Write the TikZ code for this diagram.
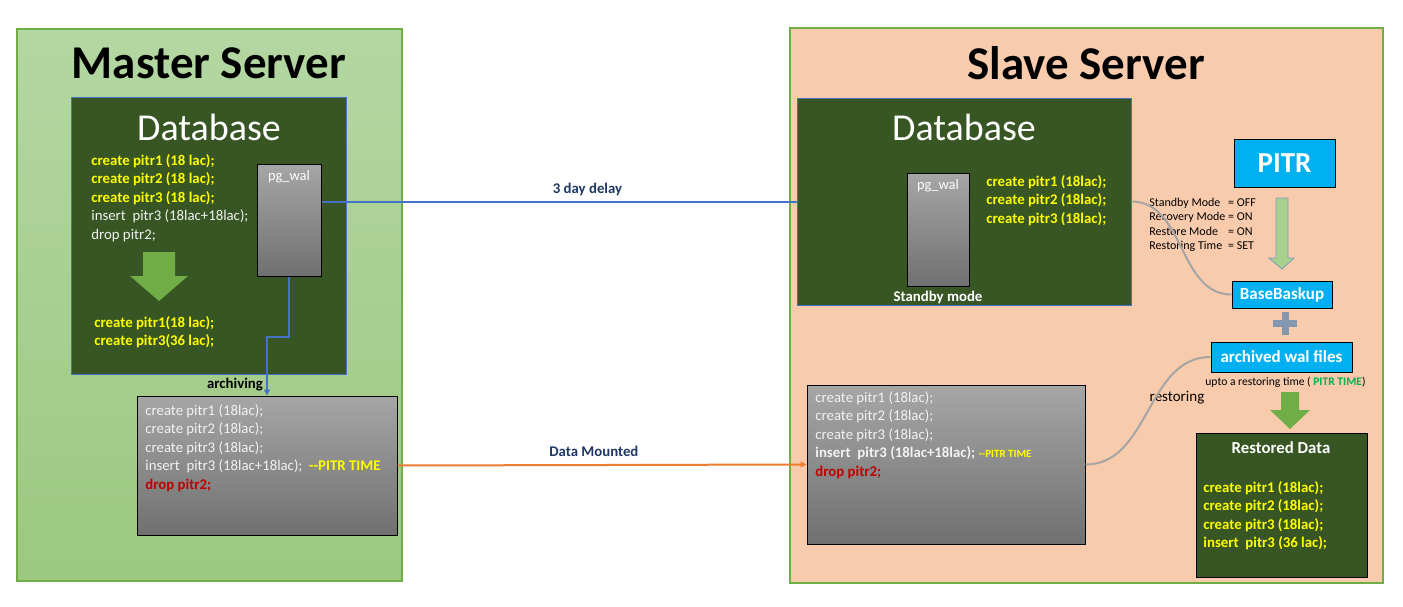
\documentclass[tikz,border=0pt]{standalone}
\usepackage{fontspec}
\setmainfont{Carlito}
\usetikzlibrary{arrows.meta}

\definecolor{masterbg1}{HTML}{B4D7A3}
\definecolor{masterbg2}{HTML}{9CC87F}
\definecolor{slavebg}{HTML}{F8CBAD}
\definecolor{panelline}{HTML}{70AD47}
\definecolor{dbgreen}{HTML}{375623}
\definecolor{dbline}{HTML}{4472C4}
\definecolor{waltop}{HTML}{A6A6A6}
\definecolor{walbot}{HTML}{707070}
\definecolor{sqlwhite}{HTML}{F2F2F2}
\definecolor{sqlyellow}{HTML}{FFFF00}
\definecolor{sqlred}{HTML}{C00000}
\definecolor{labelnavy}{HTML}{1F3864}
\definecolor{mountorange}{HTML}{ED7D31}
\definecolor{pitrblue}{HTML}{00B0F0}
\definecolor{arrowgreen}{HTML}{70AD47}
\definecolor{lightgreen}{HTML}{A9D18E}
\definecolor{lightedge}{HTML}{7F9DB9}
\definecolor{restgray}{HTML}{A5A5A5}
\definecolor{plusgray}{HTML}{8497B0}
\definecolor{timegreen}{HTML}{00B050}

\newcommand{\sqlfont}{\fontsize{7.4}{9.25}\selectfont}
\newcommand{\yl}[1]{\textcolor{sqlyellow}{\bfseries #1}}
\newcommand{\rd}[1]{\textcolor{sqlred}{\bfseries #1}}

\tikzset{
  panel/.style={draw=panelline, line width=0.6pt},
  servertitle/.style={font=\fontsize{23.5}{28}\selectfont\bfseries},
  dbtitle/.style={text=white, font=\fontsize{19}{23}\selectfont},
  dbbox/.style={draw=dbline, fill=dbgreen, line width=0.5pt, inner sep=0pt},
  walbox/.style={draw=black, top color=waltop, bottom color=walbot, line width=0.5pt, inner sep=0pt},
  pitrbox/.style={draw=black, fill=pitrblue, text=white, line width=0.5pt, inner sep=0pt, font=\fontsize{8.5}{10}\selectfont\bfseries},
  sql/.style={anchor=north west, align=left, inner sep=0pt, text=sqlwhite, font=\sqlfont},
  waltext/.style={inner sep=0pt, text=white, font=\fontsize{7.2}{9}\selectfont},
  linklabel/.style={text=labelnavy, font=\fontsize{7.4}{9}\selectfont\bfseries},
  walline/.style={draw=dbline, line width=1pt},
  restline/.style={draw=restgray, line width=1pt},
}

\begin{document}
\begin{tikzpicture}[x=0.5pt,y=-0.5pt]
\fill[white] (0,0) rectangle (1403,606);
\useasboundingbox (0,0) rectangle (1403,606);

% master server
\draw[panel, top color=masterbg1, bottom color=masterbg2] (17,29) rectangle (402,581);
\node at (209,63) [servertitle] (mtitle) {Master Server};
\node at (208.5,235.5) [dbbox, minimum width=137.5pt, minimum height=138.5pt] (mdb) {};
\node at (209,127) [dbtitle] (mdbtitle) {Database};
\node at (91,154) [sql] (msql) {\yl{create pitr1 (18 lac);}\\ \yl{create pitr2 (18 lac);}\\ \yl{create pitr3 (18 lac);}\\ insert\ \ pitr3 (18lac+18lac);\\ drop pitr2;};
\node at (289,220) [walbox, minimum width=32pt, minimum height=56pt] (mwal) {};
\node at (289,177) [waltext] (mwaltext) {pg\_wal};
\fill[arrowgreen] (143,252) -- (175,252) -- (175,276) -- (188,276) -- (159,301) -- (130,276) -- (143,276) -- cycle;
\node at (94,316) [sql] (mresult) {\yl{create pitr1(18 lac);}\\ \yl{create pitr3(36 lac);}};

\node at (267,465.5) [walbox, minimum width=130pt, minimum height=69.5pt] (arch) {};
\node at (145,404) [sql] (archsql) {create pitr1 (18lac);\\ create pitr2 (18lac);\\ create pitr3 (18lac);\\ insert\ \ pitr3 (18lac+18lac);\ \ \yl{-{}-PITR TIME}\\ \rd{drop pitr2;}};
\draw[walline, -{Triangle[length=3pt,width=3pt]}] (mwal.south) -- ++(0,60) -| (arch.north);
\node at (235,385) [font=\fontsize{7.4}{9}\selectfont\bfseries] (archlabel) {archiving};

% slave server
\draw[panel, fill=slavebg] (790,28) rectangle (1383,583);
\node at (1086,63) [servertitle] (stitle) {Slave Server};
\node at (964,201.5) [dbbox, minimum width=167pt, minimum height=103.5pt] (sdb) {};
\node at (964,127) [dbtitle] (sdbtitle) {Database};
\node at (938,229.5) [walbox, minimum width=31pt, minimum height=56.5pt] (swal) {};
\node at (938,186) [waltext] (swaltext) {pg\_wal};
\node at (938,297) [waltext, font=\sqlfont\bfseries] (standby) {Standby mode};
\node at (986,175) [sql] (ssql) {\yl{create pitr1 (18lac);}\\ \yl{create pitr2 (18lac);}\\ \yl{create pitr3 (18lac);}};

\node at (946,464.5) [walbox, minimum width=139pt, minimum height=79.5pt] (sarch) {};
\node at (815,391) [sql] (sarchsql) {create pitr1 (18lac);\\ create pitr2 (18lac);\\ create pitr3 (18lac);\\ \textbf{insert\ \ pitr3 (18lac+18lac);}\ \textcolor{sqlyellow}{\fontsize{5.5}{9.25}\selectfont\bfseries -{}-PITR TIME}\\ \rd{drop pitr2;}};

\draw[walline] (mwal.east |- sdb.west) -- node[pos=0.56, above=-1pt, linklabel] (delay) {3 day delay} (sdb.west);
\draw[draw=mountorange, line width=1pt, -{Triangle[length=3pt,width=3pt]}] (arch.east) -- node[pos=0.48, above=0.5pt, linklabel] (mounted) {Data Mounted} (sarch.west);

% pitr side
\node at (1284.5,163) [pitrbox, minimum width=50.5pt, minimum height=24pt, font=\fontsize{14.5}{17}\selectfont\bfseries] (pitr) {PITR};
\filldraw[fill=lightgreen, draw=lightedge, line width=0.4pt] (1276,198) -- (1288,198) -- (1288,258) -- (1294,258) -- (1282,269) -- (1269,258) -- (1276,258) -- cycle;
\node at (1149,196) [anchor=north west, inner sep=0pt, font=\fontsize{6}{7.15}\selectfont] (modes) {\begin{tabular}{@{}l@{ }l@{}}Standby Mode & = OFF\\ Recovery Mode & = ON\\ Restore Mode & = ON\\ Restoring Time & = SET\end{tabular}};
\node at (1282,294.5) [pitrbox, minimum width=50pt, minimum height=13.5pt] (base) {BaseBaskup};
\fill[plusgray] (1281.5,312) rectangle (1288.5,335);
\fill[plusgray] (1273,319.5) rectangle (1297,326.5);
\node at (1281.5,357) [pitrbox, minimum width=70.5pt, minimum height=15pt] (awal) {archived wal files};
\node at (1285.5,382) [font=\fontsize{5.8}{7}\selectfont] (upto) {upto a restoring time ( \textcolor{timegreen}{\bfseries PITR TIME})};
\fill[arrowgreen] (1281,392) -- (1299,392) -- (1299,410) -- (1310,410) -- (1290,429) -- (1270,410) -- (1281,410) -- cycle;
\node at (1177,398) [font=\fontsize{7.5}{9}\selectfont] (restlabel) {restoring};

\node at (1281.5,505) [draw=black, fill=dbgreen, line width=0.5pt, minimum width=85.5pt, minimum height=72pt] (restored) {};
\node at (1281,448) [text=white, font=\fontsize{8.4}{10}\selectfont\bfseries] (resttitle) {Restored Data};
\node at (1203,481) [sql] (restsql) {\yl{create pitr1 (18lac);}\\ \yl{create pitr2 (18lac);}\\ \yl{create pitr3 (18lac);}\\ \yl{insert\ \ pitr3 (36 lac);}};

\draw[restline] (sdb.east) to[out=0,in=180] (base.west);
\draw[restline] (sarch.east) to[out=0,in=180] (awal.west);
\end{tikzpicture}
\end{document}
